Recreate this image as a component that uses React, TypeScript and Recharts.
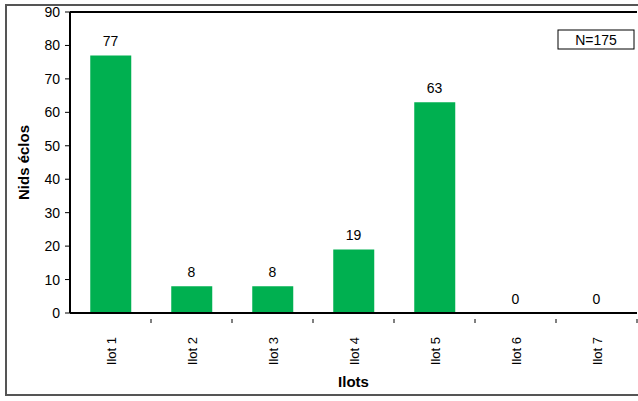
import React from "react";
import {
    ComposedChart, Bar, Line, XAxis, YAxis, LabelList, Label, ReferenceLine, Customized
} from 'recharts';

const ilots = ['Ilot 1', 'Ilot 2', 'Ilot 3', 'Ilot 4', 'Ilot 5', 'Ilot 6', 'Ilot 7'];
const nids = [77, 8, 8, 19, 63, 0, 0];
const yTicks = [0, 10, 20, 30, 40, 50, 60, 70, 80, 90];
const total = 'N=175';

const data = ilots.map((name, i) => ({ name, value: nids[i] }));

const W = 638;
const H = 401;
const FONT = '"Liberation Sans", Arial, sans-serif';
const GREEN = '#00B050';
const PLOT_LEFT = 70;
const PLOT_RIGHT = 637;

// rotated category label plus a small tick at the right edge of each band
const IlotTick = (props: any) => {
    const { x, y, payload } = props;
    const band = (PLOT_RIGHT - PLOT_LEFT) / ilots.length;
    return (
        <g>
            <line x1={x + band / 2} y1={y - 2} x2={x + band / 2} y2={y + 2} stroke="#000" strokeWidth={1} />
            <text x={x + 5} y={y + 16} transform={`rotate(-90, ${x + 5}, ${y + 16})`}
                textAnchor="end" fontSize={13} fontFamily={FONT} fill="#000">
                {payload.value}
            </text>
        </g>
    );
};

// "N=175" box in the upper right corner
const TotalBox = () => (
    <g>
        <rect x={558} y={30} width={76} height={19} fill="#fff" stroke="#000" strokeWidth={1} />
        <text x={596} y={45} textAnchor="middle" fontSize={14} fontFamily={FONT} fill="#000">{total}</text>
    </g>
);

export default function App() {
    return (
        <div style={{ position: 'absolute', left: 0, top: 0, width: W, height: H, background: '#fff', overflow: 'hidden' }}>
            <div style={{ position: 'absolute', left: 5, top: 4, width: W, height: 392, border: '2px solid #555', boxSizing: 'border-box' }} />
            <div style={{ position: 'absolute', left: 0, top: 0 }}>
                <ComposedChart width={W} height={H} data={data} barCategoryGap="25%"
                    margin={{ top: 12, right: W - PLOT_RIGHT, left: 0, bottom: 0 }}>
                    <XAxis dataKey="name" height={88} axisLine={{ stroke: '#000', strokeWidth: 2 }}
                        tickLine={false} tick={<IlotTick />} interval={0}>
                        <Label value="Ilots" position="insideBottom" offset={14} fontSize={15}
                            fontWeight="bold" fontFamily={FONT} fill="#000" />
                    </XAxis>
                    <YAxis domain={[0, 90]} ticks={yTicks} width={PLOT_LEFT} interval={0}
                        axisLine={{ stroke: '#000', strokeWidth: 2 }}
                        tickLine={{ stroke: '#000' }} tickSize={5}
                        tick={{ fontSize: 14, fontFamily: FONT, fill: '#000', dx: -3 }}>
                        <Label value="Nids éclos" angle={-90} position="insideLeft" offset={24}
                            fontSize={15} fontWeight="bold" fontFamily={FONT} fill="#000"
                            style={{ textAnchor: 'middle' }} />
                    </YAxis>
                    <ReferenceLine y={90} stroke="#000" strokeWidth={2} />
                    <Bar dataKey="value" fill={GREEN} isAnimationActive={false} />
                    {/* invisible line carries the value labels, so zero counts get one too */}
                    <Line dataKey="value" stroke="none" dot={false} activeDot={false} isAnimationActive={false}>
                        <LabelList dataKey="value" position="top" offset={9}
                            fontSize={14} fontFamily={FONT} fill="#000" />
                    </Line>
                    <Customized component={TotalBox} />
                </ComposedChart>
            </div>
        </div>
    );
}
